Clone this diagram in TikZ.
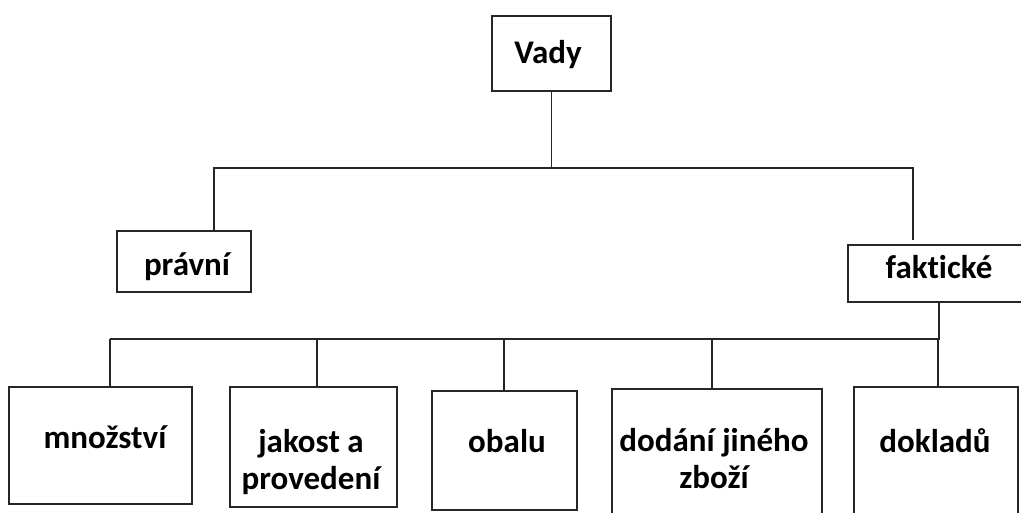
\documentclass[tikz,border=0pt]{standalone}
\usepackage{fontspec}
\setmainfont{Carlito}[Ligatures=NoCommon]
\usetikzlibrary{positioning}
\tikzset{
  box/.style={draw=black!85, line width=1.8pt, rectangle, inner sep=0pt},
  lbl/.style={font=\bfseries\fontsize{33}{37}\selectfont, align=center, inner sep=0pt, anchor=base},
  conn/.style={draw=black!85, line width=1.8pt}
}
\begin{document}
\begin{tikzpicture}[x=1pt, y=-1pt]
    \useasboundingbox (0,0) rectangle (1021,512);
    % boxes
    \node[box, minimum width=119pt, minimum height=75pt] (vady) at (551.5,53.5) {};
    \node[box, minimum width=134pt, minimum height=61pt] (pravni) at (184,261.5) {};
    \node[box, minimum width=182pt, minimum height=57pt] (fakticke) at (939,273.5) {};
    \node[box, minimum width=183pt, minimum height=117pt] (mn) at (100.5,445.5) {};
    \node[box, minimum width=167pt, minimum height=120pt] (jak) at (313.5,447) {};
    \node[box, minimum width=145pt, minimum height=119pt] (obal) at (504.5,450.5) {};
    \node[box, minimum width=210pt, minimum height=141pt] (dod) at (717,459.5) {};
    \node[box, minimum width=164pt, minimum height=143pt] (dokl) at (936,458.5) {};
    % texts
    \node[lbl] (vadyT) at (548,63) {Vady};
    \node[lbl] (pravniT) at (187,275) {právní};
    \node[lbl] (faktickeT) at (939,278) {faktické};
    \node[lbl] (mnT) at (105,448) {množství};
    \node[lbl] (jakT) at (311,489) {jakost a\\provedení};
    \node[lbl] (obalT) at (507,452) {obalu};
    \node[lbl] (dodT) at (714,488) {dodání jiného\\zboží};
    \node[lbl] (doklT) at (935,452) {dokladů};
    % connectors
    \coordinate (pjoin) at (214,168);
    \coordinate (fjoin) at (913,168);
    \draw[conn] (vady.south) -- (vady.south |- pjoin);
    \draw[conn] (pravni.north -| pjoin) -- (pjoin) -- (fjoin) -- ++(0,72);
    \coordinate (bus) at (fakticke.south |- 0,339);
    \draw[conn] (fakticke.south) -- (bus) -- (110,339);
    \foreach \n/\x in {mn/110, jak/317, obal/504, dod/712, dokl/938}
        \draw[conn] (\x,339) -- (\n.north -| \x,0);
\end{tikzpicture}
\end{document}
